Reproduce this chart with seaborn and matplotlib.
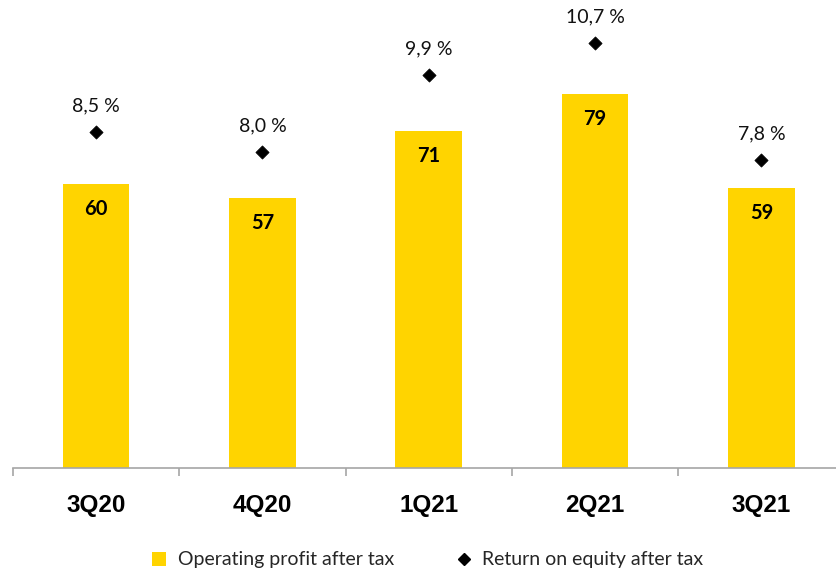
import matplotlib
matplotlib.use("Agg")
import matplotlib.pyplot as plt
import seaborn as sns
import pandas as pd
import numpy as np
from matplotlib.lines import Line2D
from matplotlib.patches import Patch
from matplotlib.font_manager import FontProperties

quarters = ["3Q20", "4Q20", "1Q21", "2Q21", "3Q21"]
profit = [60, 57, 71, 79, 59]
roe = [8.5, 8.0, 9.9, 10.7, 7.8]
roe_labels = ["8,5 %", "8,0 %", "9,9 %", "10,7 %", "7,8 %"]

sns.set_theme(style="white")
plt.rcParams["font.family"] = ["Lato", "DejaVu Sans"]

W, H = 837, 571
fig = plt.figure(figsize=(W / 100, H / 100), dpi=100)
left_px, base_px = 13, 468
ax = fig.add_axes([left_px / W, (H - base_px) / H, 831.5 / W, base_px / H])

df = pd.DataFrame({"q": quarters, "profit": profit, "roe": roe})
yellow = "#FFD400"
sns.barplot(data=df, x="q", y="profit", color=yellow, width=0.40,
            saturation=1, ax=ax, edgecolor="none")
ax.set_ylim(0, base_px / 4.74)
ax.set_xlim(-0.5, 4.5)

for i, v in enumerate(profit):
    ax.annotate(str(v), (i, v), xytext=(0, -25), textcoords="offset pixels",
                ha="center", va="center", fontsize=14.5, fontweight="bold",
                color="black")

ax2 = ax.twinx()
v0 = 0.157
ax2.set_ylim(v0, v0 + base_px / 40.3)
sns.scatterplot(data=df, x="q", y="roe", marker="D", color="black", s=45,
                edgecolor="black", ax=ax2, legend=False, zorder=5)
for i, (v, lab) in enumerate(zip(roe, roe_labels)):
    ax2.annotate(lab, (i, v), xytext=(0, 26), textcoords="offset pixels",
                 ha="center", va="center", fontsize=14, color="#111111")

for a in (ax, ax2):
    for s in ("top", "right", "left"):
        a.spines[s].set_visible(False)
    a.set_ylabel("")
    a.set_xlabel("")
    a.set_yticks([])
ax2.spines["bottom"].set_visible(False)
ax2.xaxis.set_visible(False)
ax.spines["bottom"].set_color("#A6A6A6")
ax.spines["bottom"].set_linewidth(1.2)
ax.set_xlim(-0.5, 4.5)
ax2.set_xlim(-0.5, 4.5)

ax.set_xticks(range(len(quarters)))
ax.set_xticks(np.arange(-0.5, 5.0, 1.0), minor=True)
ax.tick_params(axis="x", which="major", length=0, pad=18.5)
ax.tick_params(axis="x", which="minor", length=5.5, width=1.2,
               color="#A6A6A6", direction="out", bottom=True)
tick_fp = FontProperties(family=["Liberation Sans", "DejaVu Sans"],
                         weight="bold", size=17.5)
ax.set_xticklabels(quarters, fontproperties=tick_fp, color="black")

handles = [Patch(facecolor=yellow, edgecolor="none"),
           Line2D([], [], marker="D", color="black", linestyle="none",
                  markersize=6)]
fig.legend(handles, ["Operating profit after tax", "Return on equity after tax"],
           loc="center", bbox_to_anchor=(428 / W, 1 - 560 / H), ncol=2,
           frameon=False, fontsize=14, handlelength=0.7, handleheight=0.7,
           handletextpad=0.6, columnspacing=3.25)

fig.canvas.draw()
for t in ax.xaxis.get_major_ticks():
    t.label1.set_fontproperties(tick_fp)
    t.label1.set_color("black")

fig.savefig("out.png", dpi=100)
